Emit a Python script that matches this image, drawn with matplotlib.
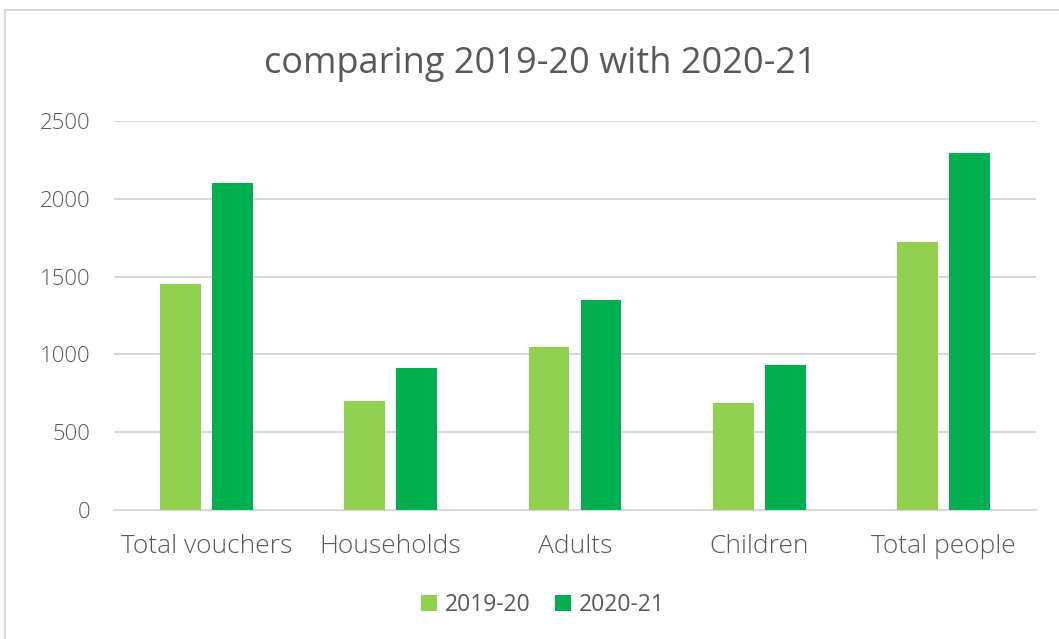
import numpy as np
import matplotlib.pyplot as plt
from matplotlib.patches import Rectangle

# Voucher figures for the two years
categories = ["Total vouchers", "Households", "Adults", "Children", "Total people"]
years = ["2019-20", "2020-21"]
values_2019 = [1450, 700, 1045, 685, 1725]
values_2020 = [2100, 910, 1352, 935, 2295]
colors = ["#92D050", "#00B050"]

plt.rcParams['font.family'] = ['Open Sans', 'DejaVu Sans']
text_color = "#595959"

fig = plt.figure(figsize=(10.59, 6.39), dpi=100)

# light frame round the chart area
fig.patches.append(Rectangle((5 / 1059, -0.1), 1.2, (639 - 10) / 639 + 0.1,
                             transform=fig.transFigure, fill=False,
                             edgecolor="#d9d9d9", linewidth=1.5))

ax = fig.add_axes([114 / 1059, (639 - 510) / 639, 922 / 1059, 389 / 639])

x = np.arange(len(categories))
width = 0.222
offset = 0.141
ax.bar(x - offset, values_2019, width, color=colors[0], label=years[0], zorder=3)
ax.bar(x + offset, values_2020, width, color=colors[1], label=years[1], zorder=3)

ax.set_xlim(-0.5, len(categories) - 0.5)
ax.set_ylim(0, 2500)
ax.set_yticks(np.arange(0, 2501, 500))
ax.yaxis.grid(True, color="#d9d9d9", linewidth=1.5, zorder=0)
ax.set_axisbelow(True)

for side in ["top", "right", "left"]:
    ax.spines[side].set_visible(False)
ax.spines["bottom"].set_color("#d9d9d9")
ax.spines["bottom"].set_linewidth(1.5)

ax.set_xticks(x)
ax.set_xticklabels(categories)
ax.tick_params(axis="both", length=0, labelcolor=text_color)
ax.tick_params(axis="x", pad=17, labelsize=19)
ax.tick_params(axis="y", pad=17, labelsize=16)
for lbl in ax.get_xticklabels() + ax.get_yticklabels():
    lbl.set_fontweight("light")

fig.text(540 / 1059, (639 - 64) / 639, "comparing 2019-20 with 2020-21", ha="center", va="center",
         fontsize=26, color=text_color)

ax.legend(loc="center", bbox_to_anchor=(0.465, -0.245), ncol=2, frameon=False,
          fontsize=16.5, labelcolor=text_color, handlelength=0.7, handleheight=0.7,
          handletextpad=0.34, columnspacing=1.06)

fig.savefig("out.png", dpi=100, facecolor="white")
